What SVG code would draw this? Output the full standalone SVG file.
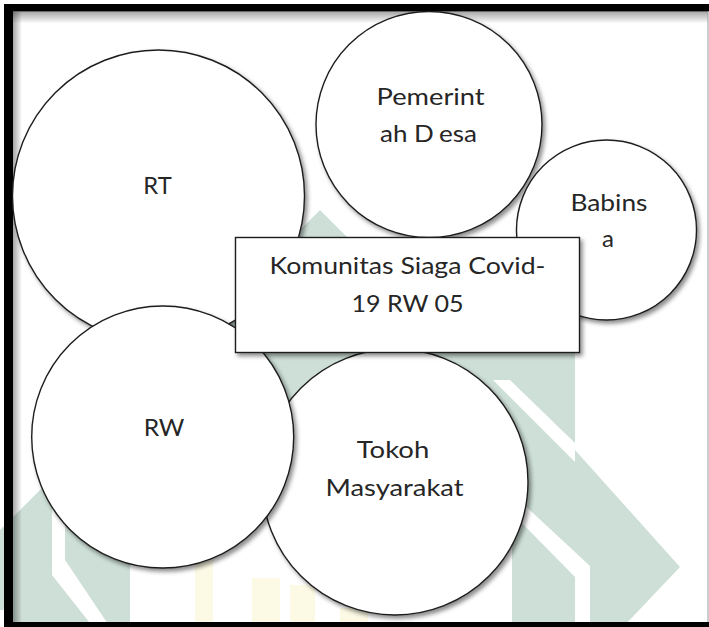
<svg xmlns="http://www.w3.org/2000/svg" width="709" height="627" viewBox="0 0 709 627">
<defs>
<style>
.wm{fill:#cddfd6}
.wy{fill:#fcf9e4}
.gap{fill:#ffffff}
.shape{fill:#ffffff;stroke:#1e1e1e;stroke-width:1.4;filter:url(#sh)}
text{font-family:Lato,"Open Sans","Liberation Sans",sans-serif;font-size:24px;fill:#262626;text-anchor:middle}
.frame{fill:#000000}
</style>
<filter id="sh" x="-10%" y="-10%" width="125%" height="125%">
<feDropShadow dx="2.5" dy="3" stdDeviation="2" flood-color="#000000" flood-opacity="0.45"/>
</filter>
<linearGradient id="gt" x1="0" y1="0" x2="0" y2="1">
<stop offset="0" stop-color="#000000" stop-opacity="0.35"/>
<stop offset="1" stop-color="#000000" stop-opacity="0"/>
</linearGradient>
<linearGradient id="gl" x1="0" y1="0" x2="1" y2="0">
<stop offset="0" stop-color="#000000" stop-opacity="0.35"/>
<stop offset="1" stop-color="#000000" stop-opacity="0"/>
</linearGradient>
</defs>
<rect x="0" y="0" width="709" height="627" fill="#ffffff"/>
<g id="watermark">
<polygon class="wm" points="320,210 347,237 575,237 575,450 680,567 623,627 512,627 512,540 400,540 300,420 200,480 130,540 130,627 13,627 13,610 0,610 0,530"/>
<polygon class="gap" points="493,380 510,380 575,443 575,462"/>
<polygon class="gap" points="505,487 590,566 590,627 575,627 575,577 505,506"/>
<polygon class="gap" points="52,470 65,470 65,560 110,627 93,627 52,575"/>
<rect class="wy" x="195" y="555" width="18" height="72"/>
<rect class="wy" x="252" y="578" width="28" height="49"/>
<rect class="wy" x="290" y="585" width="25" height="42"/>
<rect class="wy" x="340" y="608" width="28" height="19"/>
</g>
<g id="frame">
<rect x="13" y="11.5" width="695" height="12" fill="url(#gt)"/>
<rect x="13" y="11.5" width="9" height="611" fill="url(#gl)"/>
<rect class="frame" x="4" y="4" width="705" height="7.5"/>
<rect class="frame" x="4" y="4" width="9" height="623"/>
<rect class="frame" x="4" y="622" width="705" height="5"/>
<rect x="707.5" y="11" width="1" height="611" fill="#9a9a9a"/>
</g>
<g id="connectors"></g>
<g id="node-rt">
<circle class="shape" cx="158.5" cy="196" r="146"/>
<text x="157.5" y="193.5" textLength="28.4" lengthAdjust="spacingAndGlyphs">RT</text>
</g>
<g id="node-pemerintah-desa">
<circle class="shape" cx="429" cy="124.5" r="113"/>
<text x="430.6" y="104.8" textLength="108" lengthAdjust="spacingAndGlyphs">Pemerint</text>
<text x="428.5" y="142" textLength="97" lengthAdjust="spacingAndGlyphs">ah D<tspan dx="5">esa</tspan></text>
</g>
<g id="node-babinsa">
<circle class="shape" cx="606.5" cy="230" r="90"/>
<text x="609" y="210.7" textLength="77" lengthAdjust="spacingAndGlyphs">Babins</text>
<text x="608" y="246.7">a</text>
</g>
<g id="node-tokoh-masyarakat">
<circle class="shape" cx="395" cy="482" r="133"/>
<text x="393" y="458" textLength="72.5" lengthAdjust="spacingAndGlyphs">Tokoh</text>
<text x="394.5" y="496" textLength="138" lengthAdjust="spacingAndGlyphs">Masyarakat</text>
</g>
<g id="node-rw">
<circle class="shape" cx="162.7" cy="437" r="131"/>
<text x="164" y="436" textLength="40.7" lengthAdjust="spacingAndGlyphs">RW</text>
</g>
<g id="node-komunitas">
<rect class="shape" x="235.5" y="237.5" width="344" height="115"/>
<text x="407.5" y="274" textLength="276" lengthAdjust="spacingAndGlyphs">Komunitas Siaga Covid-</text>
<text x="407.5" y="311.5" textLength="112" lengthAdjust="spacingAndGlyphs">19 RW 05</text>
</g>
</svg>
